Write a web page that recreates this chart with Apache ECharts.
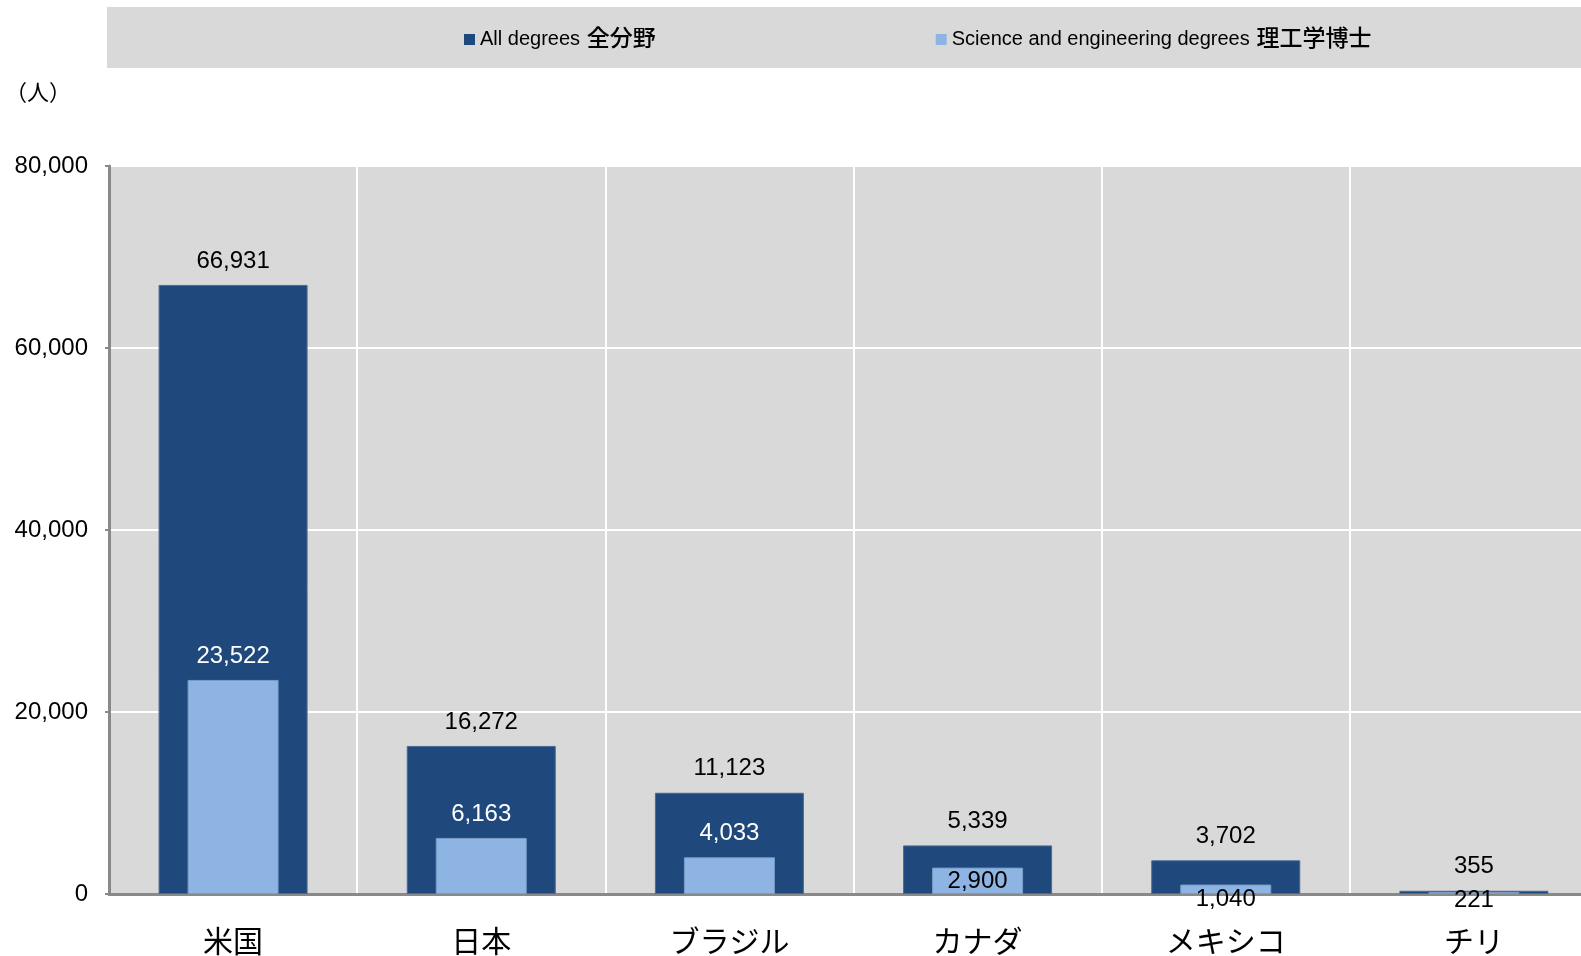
<!DOCTYPE html>
<html>
<head>
<meta charset="utf-8">
<script src="https://cdn.jsdelivr.net/npm/echarts@6/dist/echarts.min.js"></script>
<style>
  html, body { margin: 0; padding: 0; background: #fff; }
  #main { width: 1581px; height: 956px; }
</style>
</head>
<body>
<div id="main"></div>
<script>
// 国別の博士号取得者数
var countries = ['米国', '日本', 'ブラジル', 'カナダ', 'メキシコ', 'チリ'];
var allDegrees = [66931, 16272, 11123, 5339, 3702, 355];
var seDegrees = [23522, 6163, 4033, 2900, 1040, 221];
var seriesNames = ['All degrees 全分野', 'Science and engineering degrees 理工学博士'];
var yTicks = [0, 20000, 40000, 60000, 80000];

var FONT = '"Liberation Sans", "Noto Sans CJK JP", sans-serif';
var DARK = '#1f497d';
var LIGHT = '#8db4e2';

function fmt(v) {
  return String(v).replace(/\B(?=(\d{3})+(?!\d))/g, ',');
}

// 理工学博士のラベル位置（元の図に合わせて個別に調整）
var seLabels = [
  { position: 'top', distance: 12, color: '#fff' },
  { position: 'top', distance: 12, color: '#fff' },
  { position: 'top', distance: 12, color: '#fff' },
  { position: 'insideTop', distance: 2, color: '#000' },
  { position: 'insideTop', distance: 3, color: '#000' },
  { position: 'insideTop', distance: -4, color: '#000' }
];

var seData = seDegrees.map(function (v, i) {
  return { value: v, label: seLabels[i] };
});

var myChart = echarts.init(document.getElementById('main'));
myChart.setOption({
  backgroundColor: '#ffffff',
  animation: false,
  textStyle: { fontFamily: FONT },
  title: {
    text: '（人）',
    left: 0,
    top: 78,
    textStyle: { fontSize: 22, fontWeight: 'normal', color: '#000', fontFamily: FONT }
  },
  graphic: [{
    type: 'rect',
    shape: { x: 107, y: 7, width: 1474, height: 61 },
    style: { fill: '#d9d9d9' },
    z: -1
  }],
  legend: {
    left: 459,
    top: 23,
    itemWidth: 11,
    itemHeight: 11,
    itemGap: 280,
    icon: 'rect',
    itemStyle: { borderWidth: 0 },
    data: seriesNames,
    formatter: function (name) {
      var k = name.lastIndexOf(' ');
      return '{en|' + name.slice(0, k) + '}  {jp|' + name.slice(k + 1) + '}';
    },
    textStyle: {
      rich: {
        en: { fontSize: 20, color: '#000', fontFamily: FONT },
        jp: { fontSize: 23, color: '#000', fontWeight: 500, fontFamily: FONT }
      }
    }
  },
  grid: {
    left: 109,
    right: -17,
    top: 166,
    bottom: 62,
    outerBoundsMode: 'none',
    containLabel: false,
    backgroundColor: '#d9d9d9',
    show: true,
    borderWidth: 0
  },
  xAxis: [
    {
      type: 'category',
      data: countries,
      axisLine: { lineStyle: { color: '#898989', width: 3 } },
      axisTick: { show: false },
      axisLabel: { fontSize: 30, color: '#000', margin: 35, fontFamily: FONT },
      splitLine: { show: true, lineStyle: { color: '#ffffff', width: 2 } }
    },
    {
      type: 'category',
      data: countries,
      position: 'bottom',
      show: false
    }
  ],
  yAxis: {
    type: 'value',
    min: yTicks[0],
    max: yTicks[yTicks.length - 1],
    interval: yTicks[1] - yTicks[0],
    axisLine: { show: true, lineStyle: { color: '#898989', width: 3 } },
    axisTick: { show: true, length: 4, lineStyle: { color: '#898989', width: 2 } },
    axisLabel: {
      fontSize: 24,
      color: '#000',
      margin: 21,
      fontFamily: FONT,
      formatter: function (v) { return fmt(v); }
    },
    splitLine: { lineStyle: { color: '#ffffff', width: 2 } }
  },
  series: [
    {
      name: seriesNames[0],
      type: 'bar',
      xAxisIndex: 0,
      data: allDegrees,
      barWidth: 149,
      itemStyle: { color: DARK, borderColor: '#4a6a96', borderWidth: 1 },
      label: {
        show: true,
        position: 'top',
        distance: 12,
        fontSize: 24,
        color: '#000',
        fontFamily: FONT,
        formatter: function (p) { return fmt(p.value); }
      },
      z: 2
    },
    {
      name: seriesNames[1],
      type: 'bar',
      xAxisIndex: 1,
      data: seData,
      barWidth: 91,
      itemStyle: { color: LIGHT, borderColor: '#7a9cc6', borderWidth: 1 },
      label: {
        show: true,
        fontSize: 24,
        fontFamily: FONT,
        formatter: function (p) { return fmt(p.value); }
      },
      z: 3
    }
  ]
});
</script>
</body>
</html>
